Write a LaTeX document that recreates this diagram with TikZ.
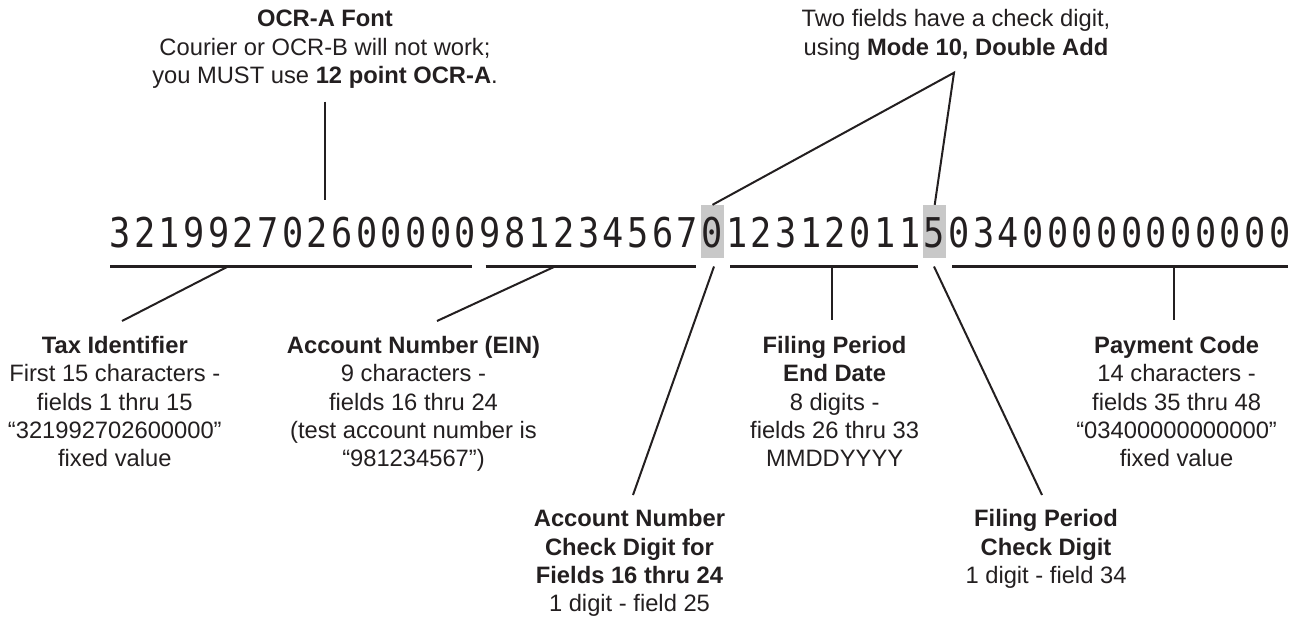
\documentclass[tikz,border=0pt]{standalone}
\usepackage{fontspec}
\setmainfont{Liberation Sans}
\newfontfamily\ocrdigits[FakeStretch=0.86,LetterSpace=8.4]{DejaVu Sans Mono}
\definecolor{ink}{HTML}{231F20}
\definecolor{shade}{HTML}{C8C8C8}
\begin{document}
\begin{tikzpicture}[x=0.75pt,y=-0.75pt,
  lbl/.style={align=center, inner sep=0pt, anchor=north, text=ink,
    font=\fontsize{17.8pt}{21.2pt}\selectfont},
  digits/.style={inner sep=0pt, anchor=base west, text=ink,
    font=\ocrdigits\fontsize{30.75pt}{30.75pt}\selectfont},
  chkbox/.style={fill=shade, draw=none, inner sep=0pt,
    minimum width=17.25pt, minimum height=39.5pt},
  conn/.style={draw=ink, line width=1.5pt},
  under/.style={draw=ink, line width=2pt}]
\useasboundingbox (0,0) rectangle (1299,617);

% shaded check-digit positions (fields 25 and 34)
\node[chkbox] (chk1) at (712.5,231.4) {};
\node[chkbox] (chk2) at (934.7,231.4) {};

% the scan line
\node[digits] (code) at (109.3,247.5) {321992702600000981234567012312011503400000000000};

% field underlines
\coordinate (u1a) at (110,266.5);   \coordinate (u1b) at (472.3,266.5);
\coordinate (u2a) at (485.7,266.5); \coordinate (u2b) at (695.7,266.5);
\coordinate (u3a) at (730,266.5);   \coordinate (u3b) at (917.7,266.5);
\coordinate (u4a) at (952.3,266.5); \coordinate (u4b) at (1287.7,266.5);
\draw[under] (u1a) -- (u1b);
\draw[under] (u2a) -- (u2b);
\draw[under] (u3a) -- (u3b);
\draw[under] (u4a) -- (u4b);

% labels
\node[lbl] (ocr) at (325,6.9) {\strut\textbf{OCR-A Font}\\Courier or OCR-B will not work;\\you MUST use \textbf{12 point OCR-A}.};
\node[lbl] (mode) at (956,6.9) {\strut Two fields have a check digit,\\using \textbf{Mode 10, Double Add}};
\node[lbl] (tax) at (114.8,333.5) {\strut\textbf{Tax Identifier}\\First 15 characters -\\fields 1 thru 15\\“321992702600000”\\fixed value};
\node[lbl] (acct) at (413.5,333.5) {\strut\textbf{Account Number (EIN)}\\9 characters -\\fields 16 thru 24\\(test account number is\\“981234567”)};
\node[lbl] (enddate) at (834.6,333.5) {\strut\textbf{Filing Period}\\\textbf{End Date}\\8 digits -\\fields 26 thru 33\\MMDDYYYY};
\node[lbl] (pay) at (1176.6,333.5) {\strut\textbf{Payment Code}\\14 characters -\\fields 35 thru 48\\“03400000000000”\\fixed value};
\node[lbl] (acctchk) at (629.5,506.9) {\strut\textbf{Account Number}\\\textbf{Check Digit for}\\\textbf{Fields 16 thru 24}\\1 digit - field 25};
\node[lbl] (filechk) at (1046,506.9) {\strut\textbf{Filing Period}\\\textbf{Check Digit}\\1 digit - field 34};

% connector end points
\coordinate (ocrtop) at (324.5,101.7);
\coordinate (ocrbot) at (324.5,200);
\coordinate (apex) at (954,72.7);
\coordinate (taxtop) at (228,266.5);   \coordinate (taxend) at (122,321);
\coordinate (accttop) at (555,266.5);  \coordinate (acctend) at (437,321);
\coordinate (datetop) at (831.7,266.5); \coordinate (dateend) at (831.7,320);
\coordinate (paytop) at (1173.6,266.5); \coordinate (payend) at (1173.6,320);
\coordinate (c1top) at (714,266.5);    \coordinate (c1end) at (633,495);
\coordinate (c2top) at (934,266.5);    \coordinate (c2end) at (1042,495);

% connectors
\draw[conn] (ocrtop) -- (ocrbot);
\draw[conn] (chk1.north) -- (apex) -- (chk2.north);
\draw[conn] (taxtop) -- (taxend);
\draw[conn] (accttop) -- (acctend);
\draw[conn] (datetop) -- (dateend);
\draw[conn] (paytop) -- (payend);
\draw[conn] (c1top) -- (c1end);
\draw[conn] (c2top) -- (c2end);
\end{tikzpicture}
\end{document}
